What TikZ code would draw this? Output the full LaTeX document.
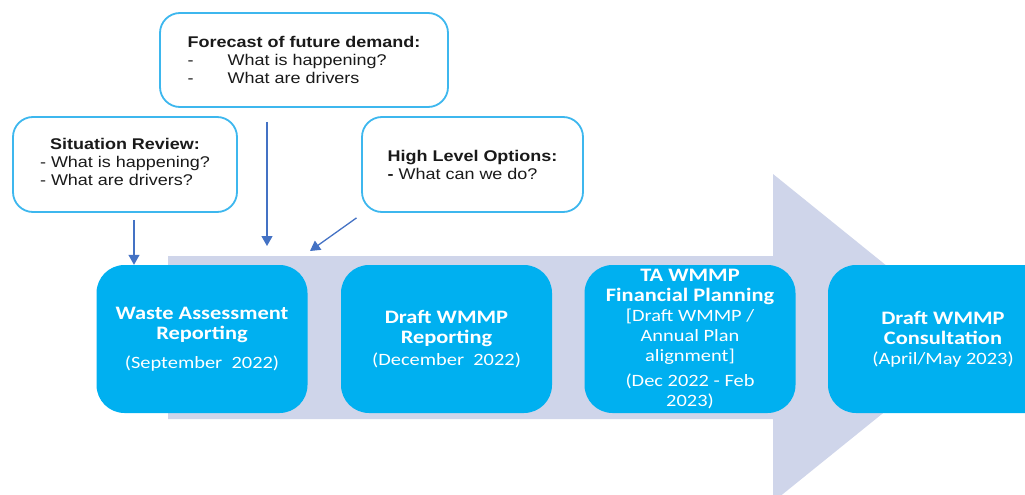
\documentclass[tikz,border=0pt]{standalone}
\usepackage{fontspec}
\setmainfont{Liberation Sans}
\newfontfamily\boxfont[FakeStretch=1.18]{Carlito}
\newfontfamily\callfont[FakeStretch=1.16]{Liberation Sans}
\usetikzlibrary{arrows.meta}
\definecolor{cyanbox}{HTML}{00B0F0}
\definecolor{callborder}{HTML}{3DB7EE}
\definecolor{lav}{HTML}{CFD5EA}
\definecolor{connblue}{HTML}{4472C4}
\definecolor{txt}{HTML}{1A1A1A}
\newcommand{\regtxt}{\fontsize{17.3}{20}\selectfont}
\tikzset{
  stepbox/.style={fill=cyanbox, draw=none, rounded corners=28pt, minimum width=211pt, minimum height=148pt,
    text=white, align=center, inner sep=0pt, font=\boxfont\fontsize{19}{20}\selectfont},
  callout/.style={draw=callborder, line width=1.8pt, fill=white, rounded corners=20pt, inner sep=0pt,
    text=txt, font=\callfont\fontsize{15.5}{18}\selectfont},
  conn/.style={draw=connblue, line width=1.3pt, -{Triangle[length=10pt,width=11pt]}}
}
\begin{document}
\begin{tikzpicture}[x=1pt,y=-1pt]
\useasboundingbox (0,0) rectangle (1025,495);
\clip (0,0) rectangle (1025,495);
% big process arrow
\fill[lav] (168,256) -- (773,256) -- (773,174) -- (976,338) -- (773,502) -- (773,419) -- (168,419) -- cycle;

% step boxes
\node[stepbox] (b1) at (202,339) {\textbf{Waste Assessment}\\\textbf{Reporting}\\[9pt]{\regtxt(September\ \ 2022)}};
\node[stepbox] (b2) at (446.5,339) {\textbf{Draft WMMP}\\\textbf{Reporting}\\[2pt]{\regtxt(December\ \ 2022)}};
\node[stepbox] (b3) at (690,339) {\textbf{TA WMMP}\\\textbf{Financial Planning}\\{\regtxt[Draft WMMP /}\\{\regtxt Annual Plan}\\{\regtxt alignment]}\\[5pt]{\regtxt(Dec 2022 - Feb}\\{\regtxt 2023)}};
\node[stepbox, minimum width=230pt] (b4) at (943,339) {\textbf{Draft WMMP}\\\textbf{Consultation}\\{\regtxt(April/May 2023)}};

% callouts
\node[callout, minimum width=224pt, minimum height=95pt, align=center] (c1) at (125,164.5)
  {\textbf{Situation Review:}\\\begin{tabular}[t]{@{}l@{}}- What is happening?\\- What are drivers?\end{tabular}};
\node[callout, minimum width=288pt, minimum height=94pt, align=left] (c2) at (304,60)
  {\textbf{Forecast of future demand:}\\-\hspace{34pt}What is happening?\\-\hspace{34pt}What are drivers};
\node[callout, minimum width=221pt, minimum height=95pt, align=left] (c3) at (472.5,164.5)
  {\textbf{High Level Options:}\\\textbf{-} What can we do?};

% connectors
\coordinate (t2) at (267,246);
\coordinate (t3) at (310,251);
\draw[conn] ([shift={(9,7)}]c1.south) -- ([xshift=9pt]c1.south |- b1.north);
\draw[conn] ([shift={(-37,14)}]c2.south) -- (t2);
\draw[conn] ([shift={(-116,5)}]c3.south) -- (t3);
\end{tikzpicture}
\end{document}
